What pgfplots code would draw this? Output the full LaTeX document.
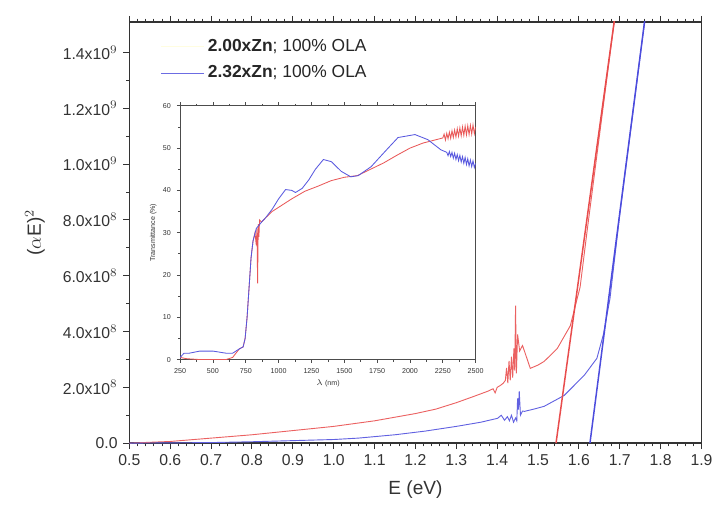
\documentclass[border=0pt]{standalone}
\usepackage{fontspec}
\setmainfont{Liberation Sans}
\usepackage{pgfplots}
\pgfplotsset{compat=1.18}
\usetikzlibrary{calc}

\definecolor{redline}{RGB}{228,45,45}
\definecolor{blueline}{RGB}{45,45,215}

\begin{document}
\begin{tikzpicture}
% main Tauc plot, values in units of 1e8
\begin{axis}[
    name=main,
    scale only axis,
    width=345pt, height=254pt,
    xmin=0.5, xmax=1.9, ymin=0, ymax=15.1,
    xtick={0.5,0.6,0.7,0.8,0.9,1.0,1.1,1.2,1.3,1.4,1.5,1.6,1.7,1.8,1.9},
    minor x tick num=4,
    ytick={0,2,4,6,8,10,12,14},
    minor y tick num=1,
    yticklabels={0.0, 2.0x10$^{8}$, 4.0x10$^{8}$, 6.0x10$^{8}$, 8.0x10$^{8}$, 1.0x10$^{9}$, 1.2x10$^{9}$, 1.4x10$^{9}$},
    xticklabel style={/pgf/number format/.cd, fixed, fixed zerofill, precision=1, assume math mode=true},
    tick label style={font=\fontsize{9.5}{11}\selectfont, color=black!80},
    xtick pos=both, ytick pos=left,
    tick align=outside,
    major tick length=3.6pt, minor tick length=2pt,
    axis line style={black!80, line width=0.8pt},
    tick style={black!80, line width=0.6pt},
    xlabel={E (eV)},
    ylabel={($\alpha$E)$^2$},
    label style={font=\fontsize{11.5}{13}\selectfont, color=black!80},
    xlabel style={yshift=-2pt},
    ylabel style={yshift=4pt},
    legend style={draw=none, fill=none, at={(rel axis cs:0.045,0.975)}, anchor=north west,
        font=\fontsize{10.5}{12}\selectfont, row sep=3pt, text=black!85},
    legend cell align=left,
    legend image code/.code={\draw[#1] (0pt,0pt) -- (26pt,0pt);},
]
\addlegendimage{yellow!12, line width=0.6pt}
\addlegendentry{\textbf{2.00xZn}; 100\% OLA}
\addlegendimage{blueline!70, line width=0.5pt}
\addlegendentry{\textbf{2.32xZn}; 100\% OLA}

% 2.00xZn data
\addplot[redline!75, line width=0.55pt, forget plot] coordinates {
 (0.50,0.00) (0.60,0.06) (0.70,0.18) (0.80,0.30) (0.90,0.45) (1.00,0.60)
 (1.10,0.80) (1.20,1.06) (1.25,1.22) (1.30,1.45) (1.34,1.66) (1.377,1.86)
 (1.390,1.95) (1.395,1.80) (1.400,2.00) (1.408,2.07) (1.415,2.15) (1.420,2.25)
 (1.423,2.70) (1.426,2.15) (1.429,2.95) (1.432,2.25) (1.435,3.10) (1.438,2.35)
 (1.441,3.40) (1.443,2.60) (1.445,4.93) (1.447,2.50) (1.450,3.90) (1.455,3.30)
 (1.462,3.50) (1.469,3.20) (1.481,2.68) (1.50,2.80) (1.515,2.93) (1.547,3.39)
 (1.579,4.21) (1.603,5.60) (1.62,7.60) (1.65,11.0) (1.69,15.5)
};
% 2.32xZn data
\addplot[blueline!75, line width=0.55pt, forget plot] coordinates {
 (0.50,0.00) (0.70,0.02) (0.80,0.05) (0.90,0.09) (1.00,0.13) (1.06,0.18)
 (1.15,0.30) (1.223,0.43) (1.30,0.60) (1.36,0.75) (1.401,0.89) (1.410,1.00)
 (1.418,0.82) (1.425,0.95) (1.430,0.80) (1.435,1.00) (1.440,0.75) (1.445,0.90)
 (1.448,0.80) (1.450,1.60) (1.452,1.20) (1.454,1.86) (1.457,1.00) (1.462,1.15)
 (1.467,1.14) (1.49,1.22) (1.515,1.32) (1.564,1.71) (1.613,2.43) (1.644,3.04)
 (1.66,3.90) (1.676,5.18) (1.70,8.20) (1.73,11.6) (1.765,15.6)
};
% linear fits
\addplot[redline!85, line width=0.9pt, forget plot] coordinates {(1.544,0) (1.690,15.5)};
\addplot[blueline!85, line width=0.9pt, forget plot] coordinates {(1.627,0) (1.765,15.6)};
\end{axis}

% inset: transmittance
\begin{axis}[
    at={($(main.south west)+(30.6pt,50.4pt)$)}, anchor=south west,
    scale only axis,
    width=178.2pt, height=153pt,
    xmin=250, xmax=2500, ymin=0, ymax=60,
    xtick={250,500,750,1000,1250,1500,1750,2000,2250,2500},
    ytick={0,10,20,30,40,50,60},
    minor x tick num=1, minor y tick num=1,
    xtick pos=both, ytick pos=left,
    tick align=outside,
    major tick length=2pt, minor tick length=1.2pt,
    axis line style={black!70, line width=0.6pt},
    tick style={black!70, line width=0.4pt},
    axis background/.style={fill=white},
    xticklabel style={/pgf/number format/.cd, set thousands separator={}, assume math mode=true},
    yticklabel style={/pgf/number format/assume math mode=true},
    tick label style={font=\fontsize{4.3}{5}\selectfont, color=black!80},
    xlabel={$\lambda$ (nm)},
    ylabel={Transmittance (\%)},
    label style={font=\fontsize{4.3}{5}\selectfont, color=black!80},
    xlabel style={yshift=3pt},
    ylabel style={yshift=-3pt},
]
\addplot[redline!80, line width=0.5pt] coordinates {
 (250,0.5) (300,0.2) (400,0) (500,0) (600,0) (650,0.5) (700,2.5) (730,3) (745,5)
 (760,10) (775,17) (790,24) (805,28) (820,30) (830,27) (835,31) (840,18) (845,32)
 (850,29) (855,33) (870,32.5) (900,33.5) (950,35) (1000,36) (1100,38) (1200,39.8)
 (1300,41) (1400,42.3) (1500,43.1) (1600,43.5) (1700,45) (1800,46.5) (1900,48.3)
 (2000,50) (2100,51.2) (2200,52.0) (2250,52.4) (2260,53.3) (2270,51.9) (2280,53.5)
 (2290,52.2) (2300,53.8) (2310,52.3) (2320,54.1) (2330,52.5) (2340,54.3) (2350,52.6)
 (2360,54.6) (2370,52.8) (2380,54.8) (2390,52.9) (2400,55.0) (2410,53.0) (2420,55.2)
 (2430,53.1) (2440,55.3) (2450,53.2) (2460,55.4) (2470,53.3) (2480,55.5) (2490,53.4)
 (2500,55.0)
};
\addplot[blueline!80, line width=0.5pt] coordinates {
 (250,0.5) (280,1.5) (320,1.5) (400,2) (500,2) (600,1.5) (650,1.5) (700,2.5)
 (730,3) (745,5) (760,10) (775,17) (790,24) (805,28) (830,31) (870,32.5) (900,33.5)
 (950,35.5) (1000,38) (1053,40.2) (1100,40) (1129,39.5) (1180,40.5) (1230,42.5)
 (1280,45) (1341,47.3) (1401,46.8) (1477,44.5) (1550,43.2) (1606,43.5) (1704,45.6)
 (1810,49.2) (1909,52.5) (2038,53.2) (2136,52) (2235,49.6) (2280,49.0) (2290,48.2)
 (2300,49.2) (2310,48.0) (2320,49.0) (2330,47.6) (2340,48.8) (2350,47.3) (2360,48.5)
 (2370,47.0) (2380,48.3) (2390,46.7) (2400,48.0) (2410,46.4) (2420,47.8) (2430,46.1)
 (2440,47.5) (2450,45.8) (2460,47.2) (2470,45.6) (2480,47.0) (2490,45.4) (2500,46.4)
};
\end{axis}

\path ($(main.south west)+(-78pt,-40.8pt)$) rectangle ($(main.north east)+(7.8pt,13.2pt)$);
\end{tikzpicture}
\end{document}
